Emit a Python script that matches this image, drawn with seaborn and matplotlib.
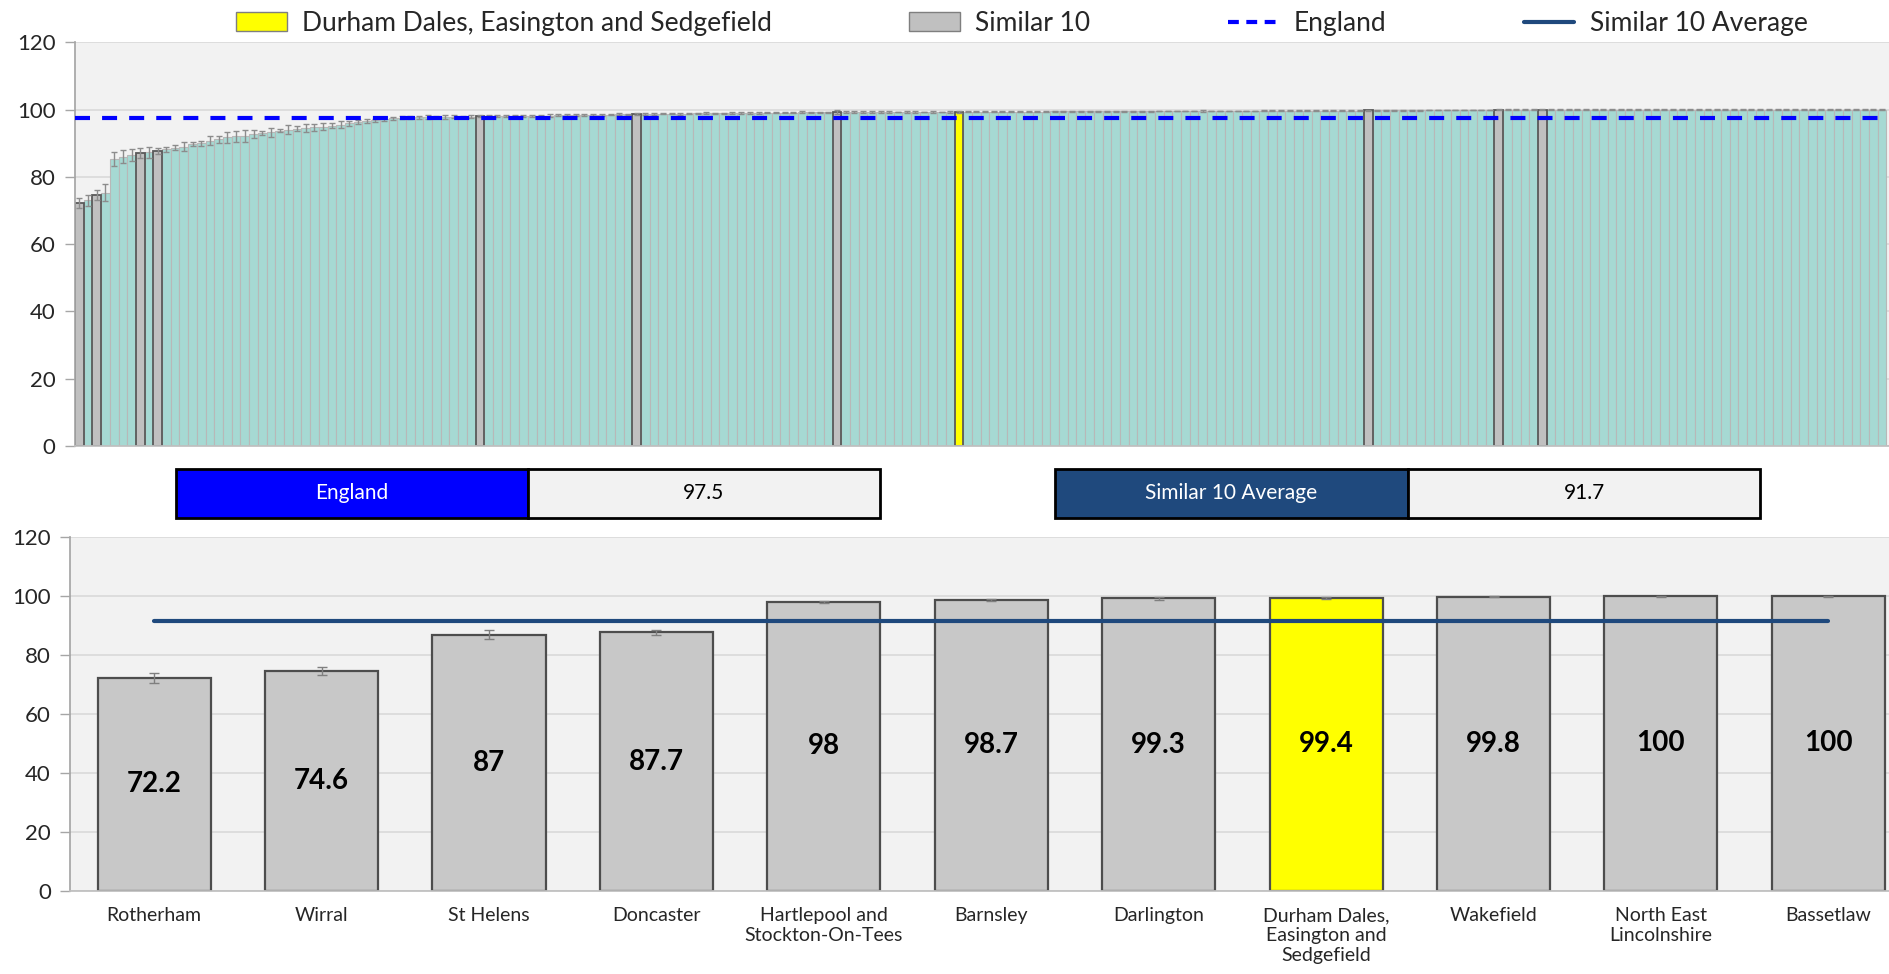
import numpy as np
import pandas as pd
import matplotlib.pyplot as plt
import seaborn as sns
from matplotlib.patches import Rectangle, Patch
from matplotlib.lines import Line2D

# ---- data: all CCGs in England, sorted ascending (%) ----
all_values = [
    72.2, 73.0, 74.6, 75.3, 85.2, 86.0, 86.5, 87.0, 87.3, 87.7,
    88.2, 88.7, 89.0, 89.8, 90.0, 90.8, 91.2, 91.7, 92.0, 92.2,
    92.7, 93.0, 93.2, 93.7, 94.0, 94.3, 94.5, 94.7, 94.9, 95.2,
    95.5, 95.9, 96.2, 96.5, 96.8, 97.1, 97.4, 97.6, 97.7, 97.7,
    97.8, 97.8, 97.8, 97.9, 97.9, 97.9, 98.0, 98.0, 98.0, 98.1,
    98.1, 98.1, 98.2, 98.2, 98.2, 98.3, 98.3, 98.4, 98.4, 98.5,
    98.5, 98.5, 98.6, 98.6, 98.7, 98.7, 98.7, 98.8, 98.8, 98.8,
    98.8, 98.9, 98.9, 98.9, 98.9, 99.0, 99.0, 99.0, 99.0, 99.1,
    99.1, 99.1, 99.1, 99.2, 99.2, 99.2, 99.2, 99.3, 99.3, 99.3,
    99.3, 99.3, 99.3, 99.3, 99.3, 99.3, 99.3, 99.3, 99.3, 99.3,
    99.3, 99.4, 99.4, 99.4, 99.4, 99.4, 99.4, 99.4, 99.4, 99.4,
    99.4, 99.4, 99.5, 99.5, 99.5, 99.5, 99.5, 99.5, 99.5, 99.5,
    99.5, 99.5, 99.5, 99.5, 99.6, 99.6, 99.6, 99.6, 99.6, 99.6,
    99.6, 99.6, 99.6, 99.6, 99.6, 99.6, 99.7, 99.7, 99.7, 99.7,
    99.7, 99.7, 99.7, 99.7, 99.7, 99.7, 99.7, 99.7, 99.8, 99.8,
    99.8, 99.8, 99.8, 99.8, 99.8, 99.9, 99.9, 99.9, 99.9, 99.9,
    99.9, 99.9, 99.9, 100, 100, 100, 100, 100, 100, 100,
    100, 100, 100, 100, 100, 100, 100, 100, 100, 100,
    100, 100, 100, 100, 100, 100, 100, 100, 100, 100,
    100, 100, 100, 100, 100, 100, 100, 100, 100, 100,
    100, 100, 100, 100, 100, 100, 100, 100,
]
all_errors = [
    1.5, 1.6, 1.5, 2.6, 2.1, 1.9, 1.8, 1.5, 1.7, 1.0,
    0.8, 0.7, 1.3, 0.7, 0.8, 1.4, 1.0, 1.7, 1.5, 1.7,
    1.1, 0.5, 1.4, 0.4, 1.4, 0.7, 1.2, 1.0, 1.0, 0.7,
    1.1, 0.8, 0.6, 0.6, 0.5, 0.6, 0.5, 0.4, 0.5, 0.4,
    0.6, 0.4, 0.5, 0.4, 0.3, 0.5, 0.3, 0.4, 0.3, 0.4,
    0.3, 0.4, 0.3, 0.3, 0.4, 0.3, 0.3, 0.2, 0.3, 0.3,
    0.3, 0.2, 0.3, 0.2, 0.3, 0.2, 0.3, 0.2, 0.2, 0.3,
    0.2, 0.2, 0.3, 0.2, 0.2, 0.2, 0.3, 0.2, 0.2, 0.2,
    0.2, 0.2, 0.2, 0.3, 0.2, 0.2, 0.2, 0.5, 0.2, 0.2,
    0.2, 0.2, 0.2, 0.2, 0.1, 0.2, 0.2, 0.1, 0.2, 0.1,
    0.2, 0.3, 0.1, 0.1, 0.2, 0.1, 0.1, 0.2, 0.1, 0.1,
    0.2, 0.1, 0.1, 0.1, 0.2, 0.1, 0.1, 0.1, 0.2, 0.1,
    0.1, 0.1, 0.1, 0.2, 0.1, 0.1, 0.1, 0.1, 0.1, 0.2,
    0.1, 0.1, 0.1, 0.1, 0.1, 0.1, 0.1, 0.1, 0.1, 0.1,
    0.1, 0.1, 0.1, 0.1, 0.1, 0.1, 0.1, 0.1, 0.1, 0.1,
    0.1, 0.1, 0.1, 0.1, 0.1, 0.1, 0.1, 0.1, 0.1, 0.1,
    0.1, 0.1, 0.1, 0.1, 0.1, 0.1, 0.1, 0.1, 0.1, 0.1,
    0.1, 0.1, 0.1, 0.1, 0.1, 0.1, 0.1, 0.1, 0.1, 0.1,
    0.1, 0.1, 0.1, 0.1, 0.1, 0.1, 0.1, 0.1, 0.1, 0.1,
    0.1, 0.1, 0.1, 0.1, 0.1, 0.1, 0.1, 0.1, 0.1, 0.1,
    0.1, 0.1, 0.1, 0.1, 0.1, 0.1, 0.1, 0.1,
]
similar_ranks = [0, 2, 7, 9, 46, 64, 87, 148, 163, 168]
highlight_rank = 101

# ---- data: the similar 10 + the selected CCG ----
peer_names = [
    "Rotherham", "Wirral", "St Helens", "Doncaster",
    "Hartlepool and\nStockton-On-Tees", "Barnsley", "Darlington",
    "Durham Dales,\nEasington and\nSedgefield", "Wakefield",
    "North East\nLincolnshire", "Bassetlaw",
]
peer_values = [72.2, 74.6, 87, 87.7, 98, 98.7, 99.3, 99.4, 99.8, 100, 100]
peer_errors = [1.6, 1.5, 1.6, 0.9, 0.3, 0.3, 0.5, 0.3, 0.2, 0.1, 0.1]
highlight_name = "Durham Dales,\nEasington and\nSedgefield"

england_value = 97.5
similar_average = 91.7

# ---- styling ----
sns.set_theme(style="white")
plt.rcParams["font.family"] = ["Lato", "DejaVu Sans"]

face = {"other": "#A6D9D3", "similar": "#C0C0C0", "highlight": "#FFFF00"}
edge = {"other": "#B8B8B8", "similar": "#5A5A5A", "highlight": "#5A5A5A"}
roles_order = ["other", "similar", "highlight"]
england_col = "#0000FF"
average_col = "#1F497D"
dash = (0, (3.6, 2.9))

fig = plt.figure(figsize=(18.89, 9.74), dpi=100)
ax_top = fig.add_axes([0.0397, 0.5421, 0.9603, 0.4145])
ax_bot = fig.add_axes([0.0373, 0.0855, 0.9749, 0.3628])

# top chart: every CCG
roles = ["other"] * len(all_values)
for r in similar_ranks:
    roles[r] = "similar"
roles[highlight_rank] = "highlight"
df_all = pd.DataFrame({
    "rank": [str(i) for i in range(len(all_values))],
    "value": all_values,
    "role": roles,
})
sns.barplot(data=df_all, x="rank", y="value", hue="role", hue_order=roles_order,
            palette=face, saturation=1, dodge=False, width=1.0, errorbar=None,
            legend=False, ax=ax_top)
for cont, role in zip(ax_top.containers, roles_order):
    for bar in cont:
        bar.set_edgecolor(edge[role])
        bar.set_linewidth(0.8 if role == "other" else 1.3)
ax_top.errorbar(np.arange(len(all_values)), all_values, yerr=all_errors, fmt="none",
                ecolor="#8C8C8C", elinewidth=1, capsize=2.5, capthick=1, zorder=3)
ax_top.axhline(england_value, color=england_col, lw=3, linestyle=dash, zorder=4)
ax_top.set_xlim(-0.5, 207.8)

# bottom chart: similar 10
peer_roles = ["highlight" if n == highlight_name else "similar" for n in peer_names]
df_peer = pd.DataFrame({"name": peer_names, "value": peer_values, "role": peer_roles})
sns.barplot(data=df_peer, x="name", y="value", hue="role", hue_order=["similar", "highlight"],
            palette={"similar": "#C8C8C8", "highlight": "#FFFF00"}, saturation=1,
            dodge=False, width=0.675, errorbar=None, legend=False, ax=ax_bot)
for bar in ax_bot.patches:
    bar.set_edgecolor("#4D4D4D")
    bar.set_linewidth(1.6)
x_peer = np.arange(len(peer_values))
ax_bot.errorbar(x_peer, peer_values, yerr=peer_errors, fmt="none", ecolor="#7F7F7F",
                elinewidth=1, capsize=3.5, capthick=1, zorder=3)
ax_bot.plot([x_peer[0], x_peer[-1]], [similar_average] * 2, color=average_col, lw=3,
            solid_capstyle="round", zorder=4)
for x, v in zip(x_peer, peer_values):
    ax_bot.text(x, v / 2, f"{v:g}", ha="center", va="center", fontsize=20,
                fontweight="bold", color="black", zorder=5)
ax_bot.set_xlim(-0.5, len(peer_values) - 0.5)
ax_bot.set_xticks(np.arange(-0.5, len(peer_values)), minor=True)
ax_bot.tick_params(axis="x", which="major", length=0, pad=12, labelsize=14)
ax_bot.tick_params(axis="x", which="minor", length=7, width=1, color="#A6A6A6", direction="out")

for ax in (ax_top, ax_bot):
    ax.set_facecolor("#F2F2F2")
    ax.set_ylim(0, 120)
    ax.set_yticks(range(0, 121, 20))
    ax.yaxis.grid(True, color="#D9D9D9", lw=1.2)
    ax.set_axisbelow(True)
    ax.set_xlabel("")
    ax.set_ylabel("")
    for s in ("top", "right"):
        ax.spines[s].set_visible(False)
    ax.spines["left"].set_color("#A6A6A6")
    ax.spines["bottom"].set_color("#BFBFBF")
    ax.tick_params(axis="y", length=7, width=1, color="#A6A6A6", direction="out",
                   labelsize=16, pad=7, left=True)
ax_top.set_xticks([])

# summary boxes between the charts
box_y, box_h = 0.4682, 0.0503
boxes = [
    (0.0932, 0.1863, england_col, "England", "white"),
    (0.2795, 0.1863, "#F2F2F2", f"{england_value:g}", "black"),
    (0.5585, 0.1869, average_col, "Similar 10 Average", "white"),
    (0.7454, 0.1863, "#F2F2F2", f"{similar_average:g}", "black"),
]
for bx, bw, fc, txt, tc in boxes:
    fig.add_artist(Rectangle((bx, box_y), bw, box_h, transform=fig.transFigure,
                             facecolor=fc, edgecolor="black", lw=2))
    fig.text(bx + bw / 2, box_y + box_h / 2, txt, ha="center", va="center",
             fontsize=15, color=tc)

# legend
handles = [
    Patch(facecolor="#FFFF00", edgecolor="#7F7F7F"),
    Patch(facecolor="#C0C0C0", edgecolor="#7F7F7F"),
    Line2D([], [], color=england_col, lw=3, linestyle=(0, (2.6, 1.8))),
    Line2D([], [], color=average_col, lw=3),
]
labels = ["Durham Dales, Easington and Sedgefield", "Similar 10", "England",
          "Similar 10 Average"]
fig.legend(handles, labels, loc="center", bbox_to_anchor=(0.541, 0.976), ncol=4,
           frameon=False, fontsize=19, columnspacing=5.2, handlelength=1.9,
           handletextpad=0.6)

fig.savefig("out.png", dpi=100)
